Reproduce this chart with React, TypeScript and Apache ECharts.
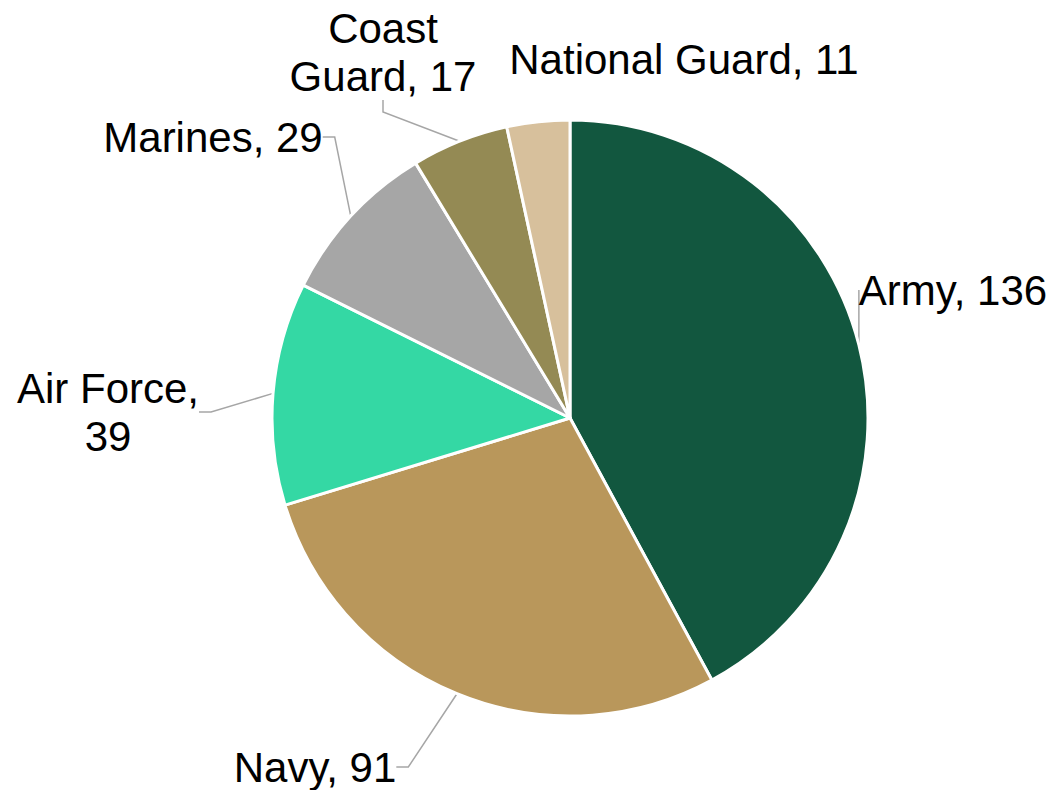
import React, { useEffect, useRef } from "react";
import * as echarts from "echarts";

const categories = ["Army", "Navy", "Air Force", "Marines", "Coast Guard", "National Guard"];
const values = [136, 91, 39, 29, 17, 11];
const labelTexts = ["Army, 136", "Navy, 91", "Air Force,\n39", "Marines, 29", "Coast\nGuard, 17", "National Guard, 11"];
const colors = ["#12573F", "#B9975B", "#34D8A4", "#A6A6A6", "#948A54", "#D7C09C"];
// label anchor positions (label centers), in px
const labelPos: [number, number][] = [
  [953, 290],
  [315, 767],
  [108, 412],
  [213, 137],
  [383, 52],
  [684, 59],
];

export default function App() {
  const ref = useRef<HTMLDivElement>(null);
  useEffect(() => {
    if (!ref.current) return;
    const chart = echarts.init(ref.current, null, { renderer: "svg" });
    chart.setOption({
      animation: false,
      backgroundColor: "#ffffff",
      series: [
        {
          type: "pie",
          center: [570, 418],
          radius: [0, 298],
          startAngle: 90,
          clockwise: true,
          avoidLabelOverlap: false,
          itemStyle: { borderColor: "#ffffff", borderWidth: 3 },
          label: {
            show: true,
            position: "outside",
            fontFamily: "Liberation Sans, Arial, sans-serif",
            fontSize: 42,
            lineHeight: 48,
            color: "#000000",
            align: "center",
            formatter: (p: any) => labelTexts[p.dataIndex],
          },
          labelLine: {
            show: true,
            length: 10,
            length2: 12,
            lineStyle: { color: "#A6A6A6", width: 1.5 },
          },
          labelLayout: (p: any) => ({
            x: labelPos[p.dataIndex][0],
            y: labelPos[p.dataIndex][1],
            align: "center",
            verticalAlign: "middle",
          }),
          data: categories.map((c, i) => ({
            name: c,
            value: values[i],
            itemStyle: { color: colors[i] },
            labelLine: i === 5 ? { show: false } : undefined,
          })),
        },
      ],
    });
    return () => chart.dispose();
  }, []);
  return (
    <div
      ref={ref}
      style={{ position: "fixed", left: 0, top: 0, width: 1055, height: 790 }}
    />
  );
}
